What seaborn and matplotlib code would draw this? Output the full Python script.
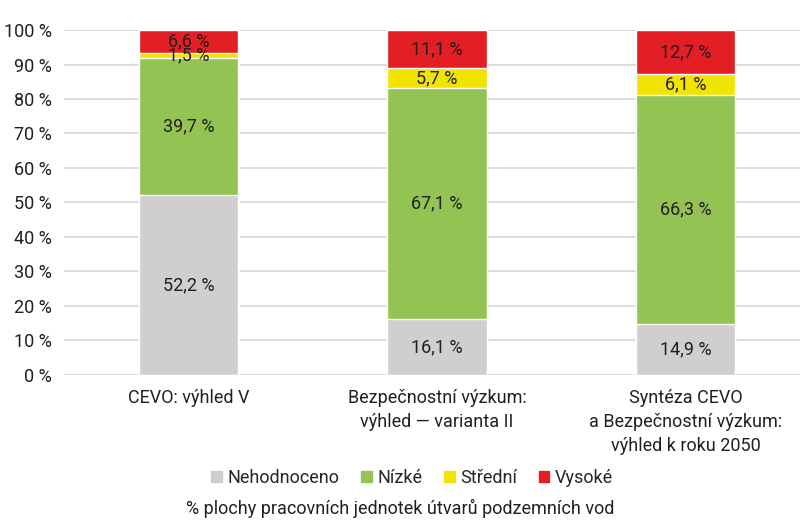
import matplotlib
matplotlib.use('Agg')
import matplotlib.pyplot as plt
import seaborn as sns
import numpy as np
import pandas as pd
from matplotlib.patches import Patch

# data
kategorie = ['CEVO: výhled V',
             'Bezpečnostní výzkum:\nvýhled — varianta II',
             'Syntéza CEVO\na Bezpečnostní výzkum:\nvýhled k roku 2050']
serie = ['Nehodnoceno', 'Nízké', 'Střední', 'Vysoké']
nehodnoceno = [52.2, 16.1, 14.9]
nizke = [39.7, 67.1, 66.3]
stredni = [1.5, 5.7, 6.1]
vysoke = [6.6, 11.1, 12.7]
barvy = ['#d0cece', '#92c353', '#f0e400', '#e41e25']

sns.set_style('white')
plt.rcParams['font.family'] = ['Roboto', 'DejaVu Sans']

hodnoty = np.array([nehodnoceno, nizke, stredni, vysoke])
kum = hodnoty.cumsum(axis=0)

fig = plt.figure(figsize=(8, 5.31), dpi=100)
ax = fig.add_axes([0.08, 0.2938, 0.92, 0.6497])

# stacked bars: draw cumulative sums from top layer down
for i in range(3, -1, -1):
    df = pd.DataFrame({'kat': kategorie, 'val': kum[i]})
    sns.barplot(data=df, x='kat', y='val', color=barvy[i], width=0.4,
                saturation=1, ax=ax, zorder=2)

# popisky
for i in range(4):
    for j in range(3):
        y = kum[i][j] - hodnoty[i][j] / 2
        ax.text(j, y, f'{hodnoty[i][j]:.1f} %'.replace('.', ','),
                ha='center', va='center', fontsize=13, color='#231f20', zorder=3)

ax.set_ylim(0, 100)
ax.set_xlim(-0.5, 2.46)
ax.set_yticks(range(0, 101, 10))
ax.set_yticklabels([f'{v} %' for v in range(0, 101, 10)])
ax.yaxis.grid(True, color='#d9d9d9', linewidth=1.3, zorder=0)
ax.set_axisbelow(True)
for s in ax.spines.values():
    s.set_visible(False)
ax.tick_params(axis='both', length=0, labelsize=13, colors='#231f20')
ax.tick_params(axis='x', pad=10)
ax.tick_params(axis='y', pad=9)
for t in ax.get_xticklabels():
    t.set_linespacing(1.45)
ax.set_xlabel('')
ax.set_ylabel('')

handles = [Patch(color=barvy[i], label=serie[i]) for i in range(4)]
fig.legend(handles=handles, loc='center', bbox_to_anchor=(0.515, 1 - 478 / 531),
           ncol=4, frameon=False, fontsize=13, handlelength=0.6, handleheight=0.6,
           handletextpad=0.3, columnspacing=1.2)
fig.text(0.5, 1 - 508 / 531, '% plochy pracovních jednotek útvarů podzemních vod',
         ha='center', va='center', fontsize=13, color='#231f20')

fig.savefig('out.png', dpi=100)
